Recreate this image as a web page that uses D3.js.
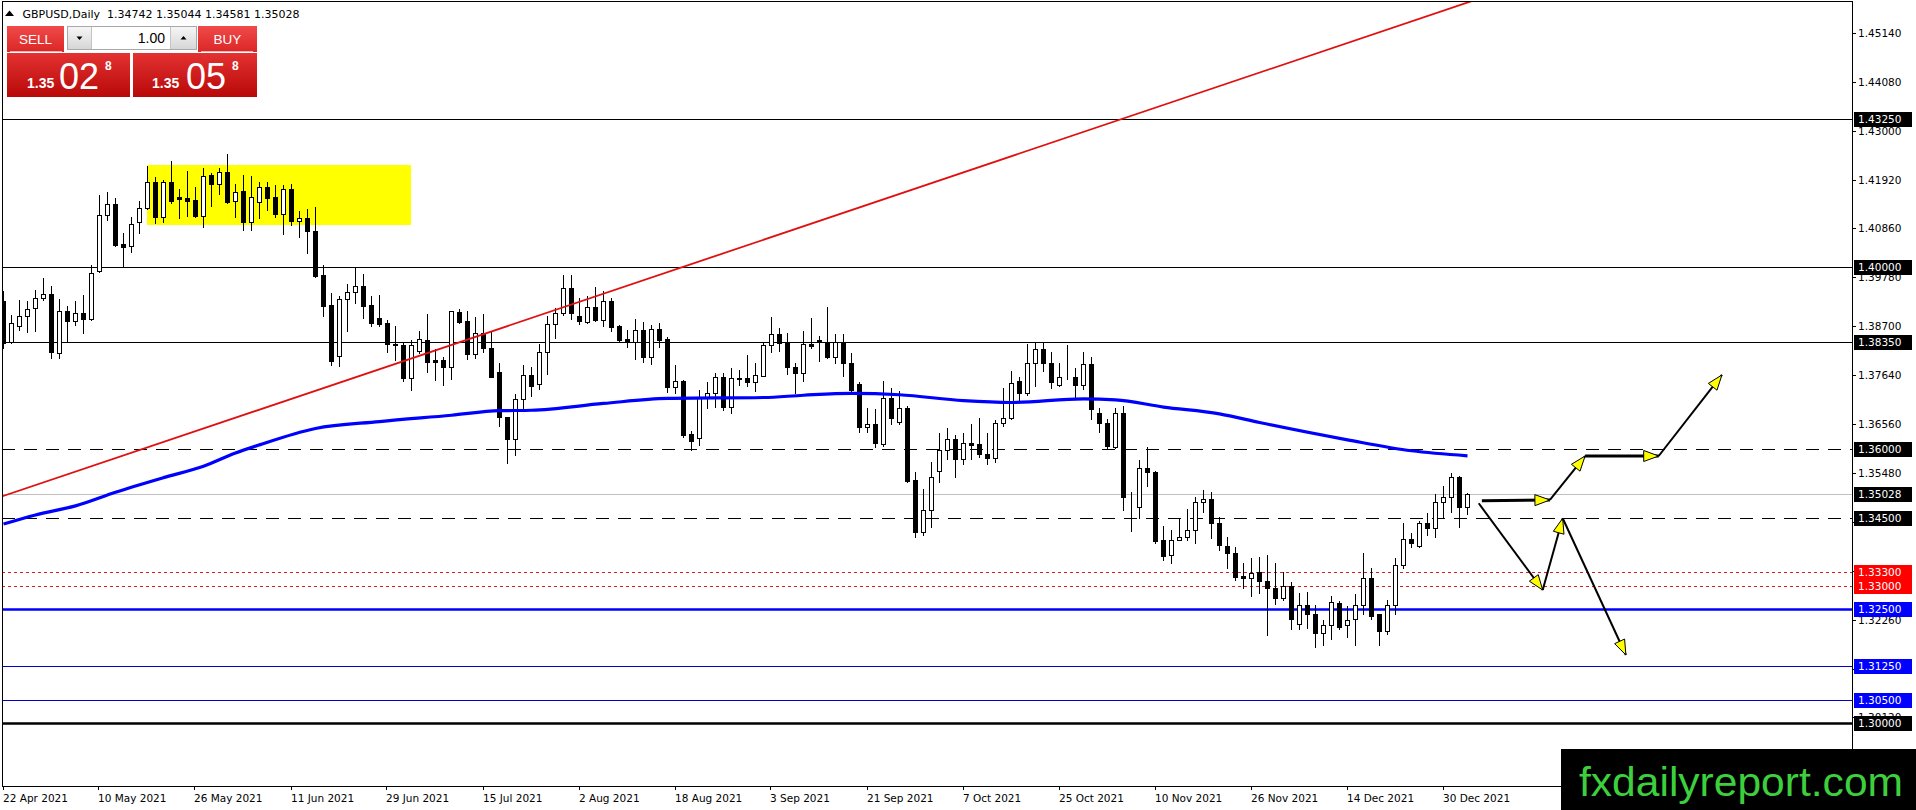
<!DOCTYPE html>
<html><head><meta charset="utf-8">
<script src="https://cdn.jsdelivr.net/npm/d3@7"></script>
<style>html,body{margin:0;padding:0;background:#fff;overflow:hidden}svg{display:block}</style>
</head><body>
<svg id="c" width="1916" height="810"></svg>
<script>
// ---------------- DATA ----------------
const symbolTitle = "GBPUSD,Daily";
const headerOHLC = ["1.34742", "1.35044", "1.34581", "1.35028"];
const lotValue = "1.00";
const sellQuote = ["1.35", "02", "8"];
const buyQuote = ["1.35", "05", "8"];

// daily candles, index 0 = 22 Apr 2021
const opens = [1.3925,1.3835,1.3870,1.3894,1.3910,1.3932,1.3941,1.3811,1.3905,1.3883,1.3899,1.3886,1.3992,1.4114,1.4138,1.4051,1.4047,1.4099,1.4130,1.4187,1.4111,1.4187,1.4154,1.4152,1.4148,1.4113,1.4203,1.4184,1.4209,1.4146,1.4168,1.4100,1.4144,1.4176,1.4154,1.4116,1.4173,1.4102,1.4108,1.4080,1.3983,1.3917,1.3806,1.3930,1.3945,1.3959,1.3917,1.3888,1.3878,1.3832,1.3829,1.3756,1.3816,1.3840,1.3796,1.3796,1.3782,1.3901,1.3881,1.3809,1.3855,1.3822,1.3771,1.3672,1.3622,1.3710,1.3764,1.3743,1.3813,1.3875,1.3899,1.3955,1.3893,1.3879,1.3912,1.3884,1.3926,1.3871,1.3842,1.3835,1.3862,1.3804,1.3865,1.3843,1.3738,1.3750,1.3633,1.3624,1.3716,1.3723,1.3758,1.3694,1.3755,1.3756,1.3749,1.3762,1.3829,1.3853,1.3835,1.3780,1.3767,1.3831,1.3840,1.3835,1.3802,1.3835,1.3789,1.3743,1.3650,1.3655,1.3612,1.3714,1.3661,1.3692,1.3533,1.3419,1.3468,1.3553,1.3599,1.3622,1.3578,1.3613,1.3611,1.3589,1.3582,1.3657,1.3668,1.3750,1.3723,1.3789,1.3820,1.3789,1.3741,1.3758,1.3760,1.3741,1.3787,1.3679,1.3659,1.3606,1.3679,1.3495,1.3474,1.3560,1.3551,1.3401,1.3368,1.3402,1.3408,1.3424,1.3484,1.3490,1.3439,1.3388,1.3372,1.3322,1.3318,1.3331,1.3312,1.3296,1.3274,1.3300,1.3216,1.3258,1.3239,1.3197,1.3214,1.3263,1.3214,1.3227,1.3258,1.3318,1.3238,1.3201,1.3258,1.3346,1.3404,1.3388,1.3439,1.3428,1.3485,1.3495,1.3540,1.34742];
const highs = [1.3947,1.3895,1.3928,1.3925,1.3950,1.3976,1.3958,1.3930,1.3914,1.3925,1.3939,1.4005,1.4159,1.4166,1.4152,1.4076,1.4110,1.4146,1.4223,1.4199,1.4192,1.4234,1.4171,1.4212,1.4177,1.4217,1.4208,1.4217,1.4249,1.4183,1.4203,1.4201,1.4188,1.4188,1.4181,1.4181,1.4184,1.4124,1.4127,1.4132,1.4005,1.3943,1.3937,1.3963,1.4000,1.3985,1.3936,1.3939,1.3884,1.3871,1.3835,1.3840,1.3859,1.3898,1.3820,1.3804,1.3904,1.3908,1.3903,1.3890,1.3898,1.3857,1.3789,1.3672,1.3722,1.3786,1.3780,1.3831,1.3892,1.3911,1.3982,1.3983,1.3932,1.3936,1.3956,1.3947,1.3932,1.3873,1.3862,1.3887,1.3879,1.3873,1.3877,1.3846,1.3786,1.3753,1.3641,1.3731,1.3747,1.3767,1.3767,1.3778,1.3775,1.3807,1.3790,1.3836,1.3891,1.3866,1.3855,1.3789,1.3861,1.3888,1.3849,1.3913,1.3853,1.3853,1.3811,1.3749,1.3690,1.3688,1.3750,1.3734,1.3729,1.3695,1.3551,1.3514,1.3573,1.3637,1.3646,1.3632,1.3635,1.3655,1.3670,1.3635,1.3664,1.3734,1.3773,1.3760,1.3831,1.3836,1.3833,1.3813,1.3789,1.3829,1.3778,1.3815,1.3802,1.3690,1.3666,1.3690,1.3695,1.3507,1.3577,1.3606,1.3553,1.3432,1.3423,1.3449,1.3470,1.3495,1.3511,1.3507,1.3451,1.3407,1.3386,1.3350,1.3362,1.3364,1.3369,1.3350,1.3331,1.3309,1.3285,1.3287,1.3258,1.3225,1.3277,1.3267,1.3256,1.3282,1.3373,1.3339,1.3239,1.3269,1.3362,1.3438,1.3417,1.3443,1.3461,1.3501,1.3520,1.3549,1.3542,1.35044];
const lows = [1.3822,1.3833,1.3862,1.3857,1.3859,1.3928,1.3800,1.3800,1.3837,1.3873,1.3855,1.3884,1.3990,1.4104,1.4047,1.4003,1.4034,1.4076,1.4127,1.4098,1.4100,1.4141,1.4109,1.4113,1.4111,1.4089,1.4135,1.4161,1.4142,1.4111,1.4083,1.4081,1.4108,1.4126,1.4111,1.4073,1.4093,1.4067,1.4032,1.3978,1.3894,1.3786,1.3783,1.3859,1.3922,1.3888,1.3870,1.3870,1.3813,1.3797,1.3751,1.3731,1.3811,1.3771,1.3753,1.3742,1.3754,1.3877,1.3798,1.3800,1.3815,1.3758,1.3652,1.3570,1.3588,1.3687,1.3718,1.3733,1.3765,1.3844,1.3895,1.3887,1.3875,1.3877,1.3882,1.3870,1.3859,1.3838,1.3826,1.3799,1.3791,1.3788,1.3826,1.3725,1.3723,1.3628,1.3599,1.3610,1.3692,1.3694,1.3687,1.3679,1.3742,1.3740,1.3729,1.3762,1.3815,1.3817,1.3765,1.3724,1.3751,1.3823,1.3795,1.3800,1.3790,1.3761,1.3729,1.3639,1.3639,1.3606,1.3608,1.3655,1.3655,1.3529,1.3408,1.3412,1.3430,1.3529,1.3580,1.3540,1.3569,1.3578,1.3584,1.3568,1.3573,1.3651,1.3666,1.3707,1.3719,1.3740,1.3773,1.3734,1.3739,1.3754,1.3710,1.3732,1.3666,1.3639,1.3602,1.3602,1.3468,1.3421,1.3449,1.3519,1.3395,1.3356,1.3350,1.3401,1.3402,1.3394,1.3462,1.3405,1.3380,1.3339,1.3313,1.3296,1.3278,1.3285,1.3192,1.3260,1.3269,1.3205,1.3205,1.3208,1.3167,1.3170,1.3184,1.3205,1.3189,1.3170,1.3238,1.3228,1.3170,1.3194,1.3238,1.3340,1.3386,1.3386,1.3411,1.3408,1.3450,1.3462,1.3430,1.34581];
const closes = [1.3833,1.3877,1.3894,1.3908,1.3932,1.3941,1.3813,1.3905,1.3883,1.3899,1.3886,1.3988,1.4114,1.4138,1.4049,1.4045,1.4094,1.4130,1.4187,1.4111,1.4187,1.4146,1.4150,1.4146,1.4113,1.4201,1.4184,1.4209,1.4144,1.4165,1.4100,1.4154,1.4176,1.4152,1.4116,1.4173,1.4102,1.4108,1.4080,1.3981,1.3916,1.3795,1.3930,1.3945,1.3959,1.3916,1.3878,1.3876,1.3831,1.3829,1.3756,1.3829,1.3842,1.3793,1.3793,1.3782,1.3903,1.3879,1.3809,1.3855,1.3822,1.3760,1.3671,1.3622,1.3710,1.3764,1.3740,1.3813,1.3875,1.3899,1.3955,1.3899,1.3881,1.3912,1.3884,1.3926,1.3868,1.3840,1.3835,1.3862,1.3804,1.3865,1.3840,1.3738,1.3750,1.3632,1.3619,1.3716,1.3723,1.3758,1.3694,1.3756,1.3756,1.3749,1.3763,1.3829,1.3853,1.3833,1.3780,1.3767,1.3831,1.3827,1.3836,1.3804,1.3835,1.3789,1.3730,1.3650,1.3655,1.3615,1.3714,1.3668,1.3692,1.3531,1.3419,1.3468,1.3539,1.3599,1.3622,1.3578,1.3613,1.3610,1.3589,1.3582,1.3657,1.3668,1.3745,1.3723,1.3789,1.3820,1.3789,1.3749,1.3760,1.3760,1.3741,1.3787,1.3688,1.3659,1.3608,1.3681,1.3495,1.3496,1.3560,1.3551,1.3399,1.3366,1.3401,1.3408,1.3424,1.3484,1.3490,1.3438,1.3390,1.3372,1.3320,1.3317,1.3329,1.3311,1.3296,1.3274,1.3300,1.3228,1.3258,1.3239,1.3197,1.3214,1.3265,1.3211,1.3225,1.3258,1.3318,1.3233,1.3201,1.3258,1.3346,1.3404,1.3395,1.3439,1.3428,1.3485,1.3495,1.3540,1.3474,1.35028];

// moving average line (bar index, value)
const maBars   = [0, 4, 9, 14, 20, 25, 29, 32, 39, 47, 56, 62, 66, 75, 83, 95, 100, 106, 112, 120, 126, 135, 139, 145, 152, 157, 168, 176, 183];
const maValues = [1.3436,1.3456,1.3476,1.3506,1.3538,1.3563,1.3592,1.3610,1.3646,1.3661,1.3675,1.3685,1.3686,1.3701,1.3712,1.3714,1.3719,1.3723,1.3720,1.3707,1.3703,1.3711,1.3709,1.3693,1.3678,1.3659,1.3621,1.3597,1.3586];

// date labels every 12 bars
const dateLabelBars = [0,12,24,36,48,60,72,84,96,108,120,132,144,156,168,180];
const dateLabels = ["22 Apr 2021","10 May 2021","26 May 2021","11 Jun 2021","29 Jun 2021","15 Jul 2021","2 Aug 2021","18 Aug 2021","3 Sep 2021","21 Sep 2021","7 Oct 2021","25 Oct 2021","10 Nov 2021","26 Nov 2021","14 Dec 2021","30 Dec 2021"];

// price axis ticks
const priceTicks = [1.4514,1.4408,1.4300,1.4192,1.4086,1.3978,1.3870,1.3764,1.3656,1.3548,1.3440,1.3332,1.3226,1.3118,1.3012];

// horizontal levels
const levelPrices = [1.4325, 1.4000, 1.3835, 1.3600, 1.35028, 1.3450, 1.3330, 1.3300, 1.3250, 1.3125, 1.3050, 1.3000];
const levelKinds  = ["solid","solid","solid","dash","bid","dash","dot","dot","blueThick","blue","blue","thick"];
const levelLabels = ["1.43250","1.40000","1.38350","1.36000","1.35028","1.34500","1.33300","1.33000","1.32500","1.31250","1.30500","1.30000"];

// trend line anchors (bar, price)
const trendBars = [0, 180];
const trendPrices = [1.34979, 1.45638];

// yellow zone (bar range, price range)
const zoneBars = [18, 51];
const zonePrices = [1.40929, 1.42247];

// scenario arrows (from bar/price -> to bar/price)
const arrowFromBar   = [184.4, 192.4, 194.9, 184.8, 193.3, 197.7, 206.9];
const arrowFromPrice = [1.34817, 1.32912, 1.34487, 1.34874, 1.34889, 1.35855, 1.35855];
const arrowToBar     = [192.4, 194.9, 202.8, 193.3, 197.7, 206.9, 214.8];
const arrowToPrice   = [1.32912, 1.34487, 1.31485, 1.34889, 1.35855, 1.35855, 1.37635];
const arrowHeavy     = [false, false, false, true, false, true, false];

const watermark = "fxdailyreport.com";

// ---------------- DRAWING ----------------
const svg = d3.select("#c");
const plot = {left: 2, right: 1852, top: 1, bottom: 786};
const x = d3.scaleLinear().domain([0, 230]).range([3.5, 3.5 + 8 * 230]);
const y = d3.scaleLinear().domain([1.28607, 1.45827]).range([786, 2]);
const FONT = "'DejaVu Sans', Verdana, sans-serif";
const PFONT = "'Liberation Sans', Arial, sans-serif";

const defs = svg.append("defs");
defs.append("clipPath").attr("id","plotclip").append("rect")
  .attr("x", plot.left).attr("y", plot.top).attr("width", plot.right - plot.left).attr("height", plot.bottom - plot.top);
const g1 = defs.append("linearGradient").attr("id","redTop").attr("x1",0).attr("y1",0).attr("x2",0).attr("y2",1);
g1.append("stop").attr("offset","0%").attr("stop-color","#f04a4a");
g1.append("stop").attr("offset","100%").attr("stop-color","#dc2626");
const g2 = defs.append("linearGradient").attr("id","redBot").attr("x1",0).attr("y1",0).attr("x2",0).attr("y2",1);
g2.append("stop").attr("offset","0%").attr("stop-color","#e43232");
g2.append("stop").attr("offset","100%").attr("stop-color","#b80808");
const g3 = defs.append("linearGradient").attr("id","btn").attr("x1",0).attr("y1",0).attr("x2",0).attr("y2",1);
g3.append("stop").attr("offset","0%").attr("stop-color","#f6f6f6");
g3.append("stop").attr("offset","100%").attr("stop-color","#d6d6d6");

svg.append("rect").attr("width",1916).attr("height",810).attr("fill","#fff");

const pg = svg.append("g").attr("clip-path","url(#plotclip)");

// yellow zone
pg.append("rect")
  .attr("x", x(zoneBars[0]) - 0.5).attr("y", y(zonePrices[1]))
  .attr("width", x(zoneBars[1]) - x(zoneBars[0]))
  .attr("height", y(zonePrices[0]) - y(zonePrices[1]))
  .attr("fill", "#ffff00");

// horizontal levels
const levelStyle = {
  solid: {stroke:"#000", w:1, dash:null},
  dash: {stroke:"#000", w:1, dash:"13,9"},
  bid: {stroke:"#c0c0c0", w:1, dash:null},
  dot: {stroke:"#d42020", w:1, dash:"3,3"},
  blueThick: {stroke:"#0000ff", w:2.5, dash:null},
  blue: {stroke:"#0000cc", w:1.2, dash:null},
  thick: {stroke:"#000", w:2.5, dash:null}
};
levelPrices.forEach((p, i) => {
  const st = levelStyle[levelKinds[i]];
  const yy = Math.round(y(p)) + 0.5;
  pg.append("line").attr("x1", plot.left).attr("x2", plot.right).attr("y1", yy).attr("y2", yy)
    .attr("stroke", st.stroke).attr("stroke-width", st.w).attr("stroke-dasharray", st.dash);
});

// candles
const candles = opens.map((o, i) => ({i, o, h: highs[i], l: lows[i], c: closes[i]}));
const cg = pg.append("g");
candles.forEach(d => {
  const cx = x(d.i);
  cg.append("line").attr("x1", cx).attr("x2", cx)
    .attr("y1", Math.round(y(d.h))).attr("y2", Math.round(y(d.l)) + 1)
    .attr("stroke", "#000").attr("stroke-width", 1);
  const top = Math.round(y(Math.max(d.o, d.c))) + 0.5;
  const bot = Math.round(y(Math.min(d.o, d.c))) + 0.5;
  cg.append("rect").attr("x", cx - 2).attr("y", top).attr("width", 4).attr("height", Math.max(0, bot - top))
    .attr("fill", d.c >= d.o ? "#fff" : "#000").attr("stroke", "#000").attr("stroke-width", 1);
});

// moving average
const maPts = maBars.map((b, i) => [x(b), y(maValues[i])]);
pg.append("path").attr("d", d3.line().curve(d3.curveMonotoneX)(maPts))
  .attr("fill","none").attr("stroke","#0000ff").attr("stroke-width",3.2);

// trend line (extended)
const slope = (trendPrices[1] - trendPrices[0]) / (trendBars[1] - trendBars[0]);
const tb0 = -2, tb1 = 230;
pg.append("line")
  .attr("x1", x(tb0)).attr("y1", y(trendPrices[0] + slope * (tb0 - trendBars[0])))
  .attr("x2", x(tb1)).attr("y2", y(trendPrices[0] + slope * (tb1 - trendBars[0])))
  .attr("stroke","#e01010").attr("stroke-width",1.8);

// arrows
arrowFromBar.forEach((fb, i) => {
  const x0 = x(fb), y0 = y(arrowFromPrice[i]), x1 = x(arrowToBar[i]), y1 = y(arrowToPrice[i]);
  pg.append("line").attr("x1",x0).attr("y1",y0).attr("x2",x1).attr("y2",y1)
    .attr("stroke","#000").attr("stroke-width", arrowHeavy[i] ? 3 : 2);
  const ang = Math.atan2(y1 - y0, x1 - x0);
  const L = 15, Wd = 5.5;
  const bx = x1 - L * Math.cos(ang), by = y1 - L * Math.sin(ang);
  const px = -Math.sin(ang) * Wd, py = Math.cos(ang) * Wd;
  pg.append("path").attr("d", `M${x1},${y1}L${bx+px},${by+py}L${bx-px},${by-py}Z`)
    .attr("fill","#ffff00").attr("stroke","#000").attr("stroke-width",1);
});

// frame
svg.append("rect").attr("x", plot.left + 0.5).attr("y", plot.top + 0.5)
  .attr("width", plot.right - plot.left).attr("height", plot.bottom - plot.top)
  .attr("fill","none").attr("stroke","#000").attr("stroke-width",1);

// price axis ticks
const ax = svg.append("g");
priceTicks.forEach(p => {
  const yy = Math.round(y(p)) + 0.5;
  ax.append("line").attr("x1", plot.right + 0.5).attr("x2", plot.right + 4).attr("y1", yy).attr("y2", yy).attr("stroke","#000");
  ax.append("text").attr("x", 1858).attr("y", yy).attr("dy","0.36em")
    .attr("font-family", FONT).attr("font-size", "10.5px").attr("fill","#000").text(p.toFixed(5));
});
// level labels
const labelFill = {solid:"#000", dash:"#000", bid:"#000", dot:"#ff0000", blueThick:"#0000ff", blue:"#0000ff", thick:"#000"};
levelPrices.forEach((p, i) => {
  const yy = Math.round(y(p)) + 0.5;
  ax.append("rect").attr("x", 1854).attr("y", yy - 7.5).attr("width", 58).attr("height", 15)
    .attr("fill", labelFill[levelKinds[i]]);
});
levelPrices.forEach((p, i) => {
  const yy = Math.round(y(p)) + 0.5;
  ax.append("text").attr("x", 1858).attr("y", yy).attr("dy","0.36em")
    .attr("font-family", FONT).attr("font-size", "10.5px").attr("fill","#fff").text(levelLabels[i]);
});

// date axis
dateLabelBars.forEach((b, i) => {
  const xx = Math.round(x(b)) - 0.5;
  ax.append("line").attr("x1", xx).attr("x2", xx).attr("y1", plot.bottom).attr("y2", plot.bottom + 4).attr("stroke","#000");
  ax.append("text").attr("x", xx - 0.5).attr("y", 801.5)
    .attr("font-family", FONT).attr("font-size", "10.5px").attr("fill","#000").text(dateLabels[i]);
});

// header
const hd = svg.append("g");
hd.append("path").attr("d","M5,16 L9.5,10.5 L14,16 Z").attr("fill","#000");
hd.append("text").attr("x", 22.5).attr("y", 17.5).attr("font-family", FONT).attr("font-size","11px")
  .attr("xml:space","preserve").text(symbolTitle + "  " + headerOHLC.join(" "));

// trade panel
const tp = svg.append("g");
tp.append("rect").attr("x",7).attr("y",26).attr("width",57).attr("height",26).attr("fill","url(#redTop)");
tp.append("rect").attr("x",198).attr("y",26).attr("width",59).attr("height",26).attr("fill","url(#redTop)");
tp.append("line").attr("x1",10).attr("x2",62).attr("y1",51.5).attr("y2",51.5).attr("stroke","#f4b0b0");
tp.append("line").attr("x1",201).attr("x2",253).attr("y1",51.5).attr("y2",51.5).attr("stroke","#f4b0b0");
tp.append("rect").attr("x",7).attr("y",53).attr("width",123).attr("height",44).attr("fill","url(#redBot)");
tp.append("rect").attr("x",133).attr("y",53).attr("width",124).attr("height",44).attr("fill","url(#redBot)");
tp.append("rect").attr("x",67.5).attr("y",26.5).attr("width",129).attr("height",23).attr("fill","#fff").attr("stroke","#a8a8a8");
tp.append("rect").attr("x",68).attr("y",27).attr("width",23).attr("height",22).attr("fill","url(#btn)");
tp.append("rect").attr("x",171).attr("y",27).attr("width",25).attr("height",22).attr("fill","url(#btn)");
tp.append("line").attr("x1",91.5).attr("x2",91.5).attr("y1",27).attr("y2",49).attr("stroke","#c4c4c4");
tp.append("line").attr("x1",170.5).attr("x2",170.5).attr("y1",27).attr("y2",49).attr("stroke","#c4c4c4");
tp.append("path").attr("d","M76.5,36.5 L82.5,36.5 L79.5,40 Z").attr("fill","#000");
tp.append("path").attr("d","M180.5,39.5 L186.5,39.5 L183.5,36 Z").attr("fill","#000");
tp.append("text").attr("x",165).attr("y",43).attr("text-anchor","end").attr("font-family",PFONT).attr("font-size","14px").attr("fill","#000").text(lotValue);
tp.append("text").attr("x",35.5).attr("y",44).attr("text-anchor","middle").attr("font-family",PFONT).attr("font-size","13.5px").attr("fill","#fff").text("SELL");
tp.append("text").attr("x",227.5).attr("y",44).attr("text-anchor","middle").attr("font-family",PFONT).attr("font-size","13.5px").attr("fill","#fff").text("BUY");
function quote(q, x0, x1, x2) {
  tp.append("text").attr("x",x0).attr("y",88).attr("font-family",PFONT).attr("font-size","14px").attr("font-weight","bold").attr("fill","#fff").text(q[0]);
  tp.append("text").attr("x",x1).attr("y",88.5).attr("font-family",PFONT).attr("font-size","36px").attr("fill","#fff").text(q[1]);
  tp.append("text").attr("x",x2).attr("y",70).attr("font-family",PFONT).attr("font-size","12px").attr("font-weight","bold").attr("fill","#fff").text(q[2]);
}
quote(sellQuote, 27, 59, 105);
quote(buyQuote, 152, 186, 232);

// watermark
svg.append("rect").attr("x",1561).attr("y",749).attr("width",355).attr("height",61).attr("fill","#000");
svg.append("text").attr("x",1579).attr("y",796).attr("font-family",PFONT).attr("font-size","41px")
  .attr("textLength",324).attr("lengthAdjust","spacingAndGlyphs").attr("fill","#3dcf3d").text(watermark);
</script>
</body></html>
